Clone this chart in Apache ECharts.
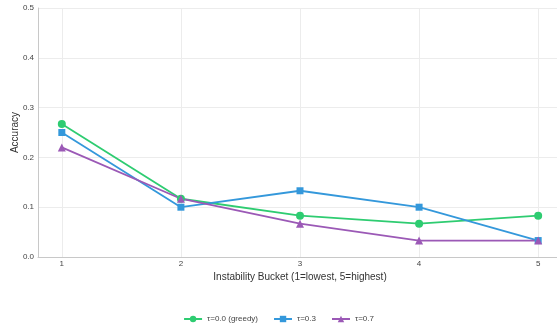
<!DOCTYPE html>
<html><head><meta charset="utf-8">
<script src="https://cdn.jsdelivr.net/npm/echarts@6/dist/echarts.min.js"></script>
<style>html,body{margin:0;padding:0;background:#fff}#c{width:557px;height:325px}</style>
</head><body><div id="c"></div>
<script>
const buckets = [1, 2, 3, 4, 5];
const seriesNames = ['τ=0.0 (greedy)', 'τ=0.3', 'τ=0.7'];
const greedy = [0.267, 0.117, 0.083, 0.067, 0.083];
const tau03 = [0.25, 0.10, 0.133, 0.10, 0.033];
const tau07 = [0.22, 0.117, 0.067, 0.033, 0.033];
const colors = ['#2ecc71', '#3498db', '#9b59b6'];
const symbols = ['circle', 'rect', 'triangle'];
const symbolSizes = [8, 7, 8];

const data = [greedy, tau03, tau07];
const chart = echarts.init(document.getElementById('c'), null, {renderer: 'canvas'});
chart.setOption({
  animation: false,
  textStyle: {fontFamily: 'Liberation Sans, Arial, sans-serif'},
  grid: {left: 38, right: -5, top: 8, bottom: 68, containLabel: false, outerBoundsMode: 'none'},
  legend: {
    top: 310, left: 'center', itemWidth: 18, itemHeight: 8, itemGap: 15,
    textStyle: {fontSize: 8, color: '#444'},
    data: seriesNames
  },
  xAxis: {
    type: 'value', min: 0.8, max: 5.2,
    name: 'Instability Bucket (1=lowest, 5=highest)',
    nameLocation: 'middle', nameGap: 15, nameMoveOverlap: false,
    nameTextStyle: {fontSize: 10, color: '#333'},
    axisLine: {show: true, lineStyle: {color: '#c8c8c8'}},
    axisTick: {show: false, customValues: buckets},
    axisLabel: {fontSize: 8, color: '#444', margin: 3,
      customValues: buckets, formatter: v => String(v)},
    splitLine: {show: true, lineStyle: {color: '#ececec'}}
  },
  yAxis: {
    type: 'value', min: 0, max: 0.5, interval: 0.1,
    name: 'Accuracy', nameLocation: 'middle', nameGap: 18, nameMoveOverlap: false,
    nameTextStyle: {fontSize: 10, color: '#333'},
    axisLine: {show: true, lineStyle: {color: '#c8c8c8'}},
    axisTick: {show: false},
    axisLabel: {fontSize: 8, color: '#444', margin: 4, formatter: v => v.toFixed(1)},
    splitLine: {show: true, lineStyle: {color: '#ececec'}}
  },
  series: seriesNames.map((n, i) => ({
    name: n, type: 'line',
    data: buckets.map((b, j) => [b, data[i][j]]),
    symbol: symbols[i], symbolSize: symbolSizes[i],
    lineStyle: {width: 1.8, color: colors[i]},
    itemStyle: {color: colors[i]}
  }))
});
</script></body></html>
